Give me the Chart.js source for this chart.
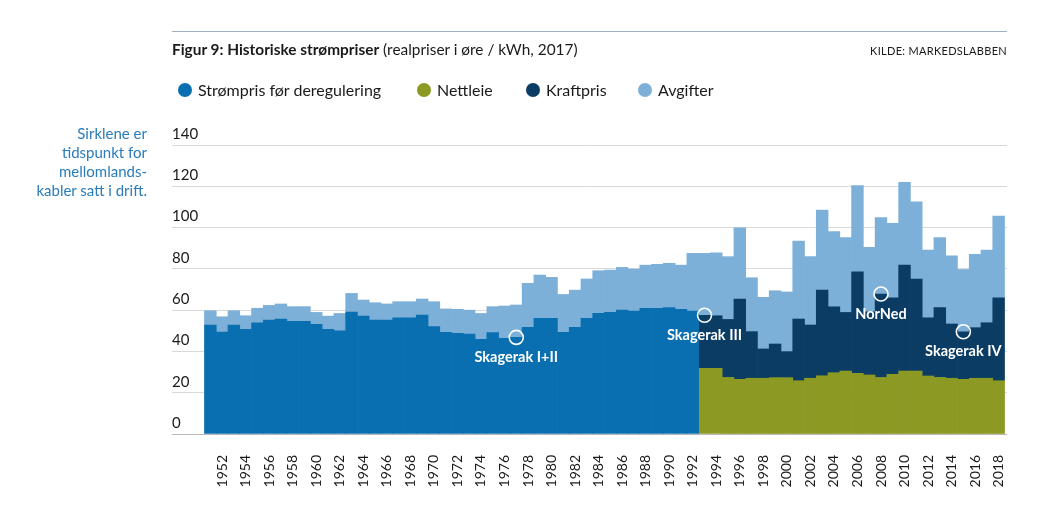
<!DOCTYPE html>
<html lang="no">
<head>
<meta charset="utf-8">
<title>Historiske strømpriser</title>
<script src="https://cdn.jsdelivr.net/npm/chart.js@4.4.1/dist/chart.umd.min.js"></script>
<style>
  body { margin: 0; background: #fff; font-family: Lato, "Noto Sans", sans-serif; color: #1a1a1a; }
  #wrap { position: relative; width: 1050px; height: 510px; }
  #wrap canvas { position: absolute; left: 0; top: 0; }
  .rule { position: absolute; left: 172px; top: 31px; width: 835px; border-top: 1.5px solid #9fb0c0; }
  .title { position: absolute; left: 172px; top: 40px; font-size: 15.4px; white-space: nowrap; }
  .title b { font-weight: 700; }
  .source { position: absolute; right: 43px; top: 44px; font-size: 11px; letter-spacing: 0.3px; }
  .leg { position: absolute; top: 80px; font-size: 16px; white-space: nowrap; line-height: 20px; }
  .leg i { position: absolute; left: -20px; top: 3px; width: 14px; height: 14px; border-radius: 50%; }
  .note { position: absolute; right: 903px; top: 124px; text-align: right; font-size: 15px; line-height: 19px; color: #2a7cba; white-space: nowrap; }
</style>
</head>
<body>
<div id="wrap">
  <canvas id="myChart" width="1050" height="510"></canvas>
  <div class="rule"></div>
  <div class="title"><b>Figur 9: Historiske strømpriser</b> (realpriser i øre / kWh, 2017)</div>
  <div class="source">KILDE: MARKEDSLABBEN</div>
  <div class="leg" style="left:198px"><i style="background:#0a6fb0"></i>Strømpris før deregulering</div>
  <div class="leg" style="left:437px"><i style="background:#8c9923"></i>Nettleie</div>
  <div class="leg" style="left:546px"><i style="background:#0b3c64"></i>Kraftpris</div>
  <div class="leg" style="left:658px"><i style="background:#7db0d8"></i>Avgifter</div>
  <div class="note">Sirklene er<br>tidspunkt for<br>mellomlands-<br>kabler satt i drift.</div>
</div>
<script>
// øre/kWh, realpriser 2017
const firstYear = 1951;
const deregYear = 1993;

// 1951-1992
const strompris = [
  52.8, 49.4, 52.8, 50.7, 53.8, 55.2, 55.7, 54.6, 54.6, 53.1,
  50.7, 50.0, 59.1, 57.1, 55.2, 55.2, 56.3, 56.3, 57.6, 52.0,
  49.3, 48.8, 48.4, 45.9, 49.1, 46.3, 46.8, 51.7, 56.0, 56.0,
  49.2, 51.7, 56.0, 58.4, 58.9, 60.0, 59.6, 60.9, 60.9, 61.3,
  60.4, 59.6
];

// 1993-2018
const nettleie = [
  31.8, 31.8, 27.4, 26.5, 27.0, 27.0, 27.3, 27.3, 25.8, 27.0,
  28.2, 29.7, 30.5, 29.4, 28.6, 27.4, 28.9, 30.5, 30.5, 28.1,
  27.4, 27.0, 26.5, 27.0, 27.0, 25.8
];
const kraftpris = [
  25.7, 25.5, 28.1, 38.9, 22.6, 14.2, 16.3, 12.6, 29.9, 25.8,
  41.5, 31.9, 28.4, 49.2, 30.6, 40.4, 37.1, 51.3, 44.6, 28.2,
  33.8, 26.3, 23.0, 24.5, 26.9, 40.2
];

// 1951-2018
const avgifter = [
  6.9, 7.4, 6.9, 6.6, 7.1, 7.1, 7.3, 7.1, 7.1, 5.8,
  6.4, 8.4, 9.0, 7.8, 8.4, 7.8, 7.8, 7.8, 7.8, 12.1,
  11.3, 11.6, 11.6, 12.5, 12.6, 15.7, 15.7, 21.3, 21.0, 19.9,
  18.4, 18.0, 19.1, 20.7, 20.5, 20.7, 20.3, 20.9, 21.3, 21.4,
  21.4, 27.9,
  30.0, 30.5, 30.4, 34.5, 26.1, 25.0, 25.8, 28.9,
  37.8, 33.1, 38.8, 36.4, 36.3, 41.7, 31.2, 37.0, 36.0, 40.1,
  37.4, 32.8, 33.9, 33.0, 30.2, 35.5, 35.2, 39.6
];

const tickYears = [
  1952, 1954, 1956, 1958, 1960, 1962, 1964, 1966, 1968, 1970, 1972, 1974,
  1976, 1978, 1980, 1982, 1984, 1986, 1988, 1990, 1992, 1994, 1996, 1998,
  2000, 2002, 2004, 2006, 2008, 2010, 2012, 2014, 2016, 2018
];

const cables = [
  { year: 1977, name: 'Skagerak I+II' },
  { year: 1993, name: 'Skagerak III' },
  { year: 2008, name: 'NorNed' },
  { year: 2015, name: 'Skagerak IV' }
];

function points(start, values) {
  return values.map((v, i) => ({ x: start + i, y: v }));
}

// top of the lowest layer(s) for a given year
function levelAt(year) {
  if (year < deregYear) return strompris[year - firstYear];
  const i = year - deregYear;
  return nettleie[i] + kraftpris[i];
}

const cablePlugin = {
  id: 'cables',
  afterDatasetsDraw(chart) {
    const ctx = chart.ctx;
    const xs = chart.scales.x, ys = chart.scales.y;
    ctx.save();
    cables.forEach(c => {
      const x = xs.getPixelForValue(c.year);
      const y = ys.getPixelForValue(levelAt(c.year));
      ctx.beginPath();
      ctx.arc(x, y, 7, 0, Math.PI * 2);
      ctx.strokeStyle = '#fff';
      ctx.lineWidth = 1.6;
      ctx.stroke();
      ctx.fillStyle = '#fff';
      ctx.font = 'bold 14.5px Lato';
      ctx.textAlign = 'center';
      ctx.textBaseline = 'middle';
      ctx.fillText(c.name, x, y + 20);
    });
    ctx.restore();
  }
};

const ctx = document.getElementById('myChart').getContext('2d');
const myChart = new Chart(ctx, {
  type: 'bar',
  data: {
    datasets: [
      { label: 'Strømpris før deregulering', data: points(firstYear, strompris), backgroundColor: '#0a6fb0' },
      { label: 'Nettleie', data: points(deregYear, nettleie), backgroundColor: '#8c9923' },
      { label: 'Kraftpris', data: points(deregYear, kraftpris), backgroundColor: '#0b3c64' },
      { label: 'Avgifter', data: points(firstYear, avgifter), backgroundColor: '#7db0d8' }
    ]
  },
  options: {
    responsive: false,
    animation: false,
    barPercentage: 1,
    categoryPercentage: 1,
    borderWidth: 0,
    layout: { padding: { left: 172, right: 43, top: 145, bottom: 0 } },
    plugins: {
      legend: { display: false },
      tooltip: { enabled: false }
    },
    scales: {
      x: {
        type: 'linear',
        stacked: true,
        offset: false,
        min: 1947.74,
        max: 2018.71,
        afterBuildTicks(scale) {
          scale.ticks = tickYears.map(v => ({ value: v }));
        },
        afterFit(scale) { scale.height = 76; },
        grid: { display: false, offset: false },
        border: { display: false },
        ticks: {
          autoSkip: false,
          minRotation: 90,
          maxRotation: 90,
          padding: 13,
          color: '#1a1a1a',
          font: { family: 'Lato', size: 14 },
          callback: v => String(v)
        }
      },
      y: {
        stacked: true,
        min: 0,
        max: 140,
        afterFit(scale) { scale.width = 0; },
        grid: {
          drawTicks: false,
          color: c => c.tick && c.tick.value === 0 ? '#b8b8b8' : '#d9d9d9'
        },
        border: { display: false },
        ticks: {
          stepSize: 20,
          mirror: true,
          padding: 0,
          labelOffset: -11,
          color: '#1a1a1a',
          font: { family: 'Lato', size: 15 }
        }
      }
    }
  },
  plugins: [cablePlugin]
});
</script>
</body>
</html>
